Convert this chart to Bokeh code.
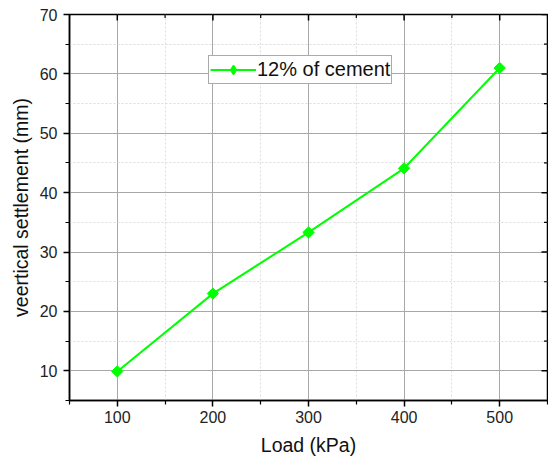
import math
from bokeh.plotting import figure
from bokeh.models import Range1d, FixedTicker, Legend, LegendItem
from bokeh.embed import file_html
from bokeh.resources import INLINE

load_kpa = [100, 200, 300, 400, 500]
settlement_mm = [9.9, 23.0, 33.3, 44.1, 61.0]
series_name = "12% of cement"
x_ticks = [100, 200, 300, 400, 500]
x_minor = [50, 150, 250, 350, 450, 550]
y_ticks = [10, 20, 30, 40, 50, 60, 70]
y_minor = [5, 15, 25, 35, 45, 55, 65]
x_min, x_max = 50, 550
y_min, y_max = 5, 70

FONT = "Liberation Sans"
GREEN = "#00ff00"

p = figure(width=548, height=464, output_backend="svg", toolbar_location=None,
           x_range=Range1d(x_min, x_max), y_range=Range1d(y_min, y_max),
           min_border_left=69, min_border_right=1, min_border_top=14, min_border_bottom=64)
p.background_fill_color = "white"
p.border_fill_color = "white"
p.outline_line_color = "black"
p.outline_line_width = 1.5

xt = FixedTicker(ticks=x_ticks, minor_ticks=x_minor)
yt = FixedTicker(ticks=y_ticks, minor_ticks=y_minor)

for ax in (p.xaxis[0], p.yaxis[0]):
    ax.axis_line_color = "black"
    ax.axis_line_width = 1.5
    ax.major_tick_line_color = "black"
    ax.minor_tick_line_color = "black"
    ax.major_tick_line_width = 1.5
    ax.minor_tick_line_width = 1.2
    ax.major_tick_in = 0
    ax.major_tick_out = 6
    ax.minor_tick_in = 0
    ax.minor_tick_out = 4
    ax.major_label_text_font = FONT
    ax.major_label_text_font_size = "16px"
    ax.major_label_text_color = "#222222"
    ax.axis_label_text_font = FONT
    ax.axis_label_text_font_size = "19.5px"
    ax.axis_label_text_font_style = "normal"
    ax.axis_label_text_color = "#111111"

p.xaxis[0].ticker = xt
p.yaxis[0].ticker = yt
p.xaxis[0].axis_label = "Load (kPa)"
p.yaxis[0].axis_label = "veertical settlement (mm)"
p.xaxis[0].major_label_standoff = 4
p.xaxis[0].axis_label_standoff = 8
p.yaxis[0].major_label_standoff = 6
p.yaxis[0].axis_label_standoff = 5

p.xgrid.ticker = xt
p.ygrid.ticker = yt
for g in (p.xgrid[0], p.ygrid[0]):
    g.grid_line_color = "#a8a8a8"
    g.grid_line_width = 1
    g.minor_grid_line_color = "#dcdcdc"
    g.minor_grid_line_dash = "2 2"
    g.minor_grid_line_width = 1

# inward ticks on the top and right frame edges (clipped to the frame)
p.scatter(x_ticks, [y_max] * len(x_ticks), marker="dash", angle=math.pi / 2,
          size=12, line_color="black", line_width=1.5)
p.scatter(x_minor, [y_max] * len(x_minor), marker="dash", angle=math.pi / 2,
          size=7, line_color="black", line_width=1.2)
p.scatter([x_max] * len(y_ticks), y_ticks, marker="dash",
          size=12, line_color="black", line_width=1.5)
p.scatter([x_max] * len(y_minor), y_minor, marker="dash",
          size=7, line_color="black", line_width=1.2)

ln = p.line(load_kpa, settlement_mm, line_color=GREEN, line_width=2)
# diamond renderer (hidden under the rotated squares) used for the legend symbol
lg_mark = p.scatter(load_kpa, settlement_mm, marker="diamond", size=7,
                    fill_color=GREEN, line_color=GREEN)
p.scatter(load_kpa, settlement_mm, marker="square", angle=math.pi / 4, size=8,
          fill_color=GREEN, line_color=GREEN)

legend = Legend(items=[LegendItem(label=series_name, renderers=[ln, lg_mark])],
                location=(139, 316), orientation="vertical")
legend.label_text_font = FONT
legend.label_text_font_size = "20px"
legend.label_text_color = "#111111"
legend.glyph_width = 46
legend.glyph_height = 25
legend.label_height = 21
legend.label_standoff = 1
legend.padding = 1
legend.margin = 0
legend.spacing = 0
legend.border_line_color = "#555555"
legend.border_line_width = 1
legend.background_fill_alpha = 1
p.add_layout(legend, "center")

open("out.html", "w").write(file_html(p, INLINE))
